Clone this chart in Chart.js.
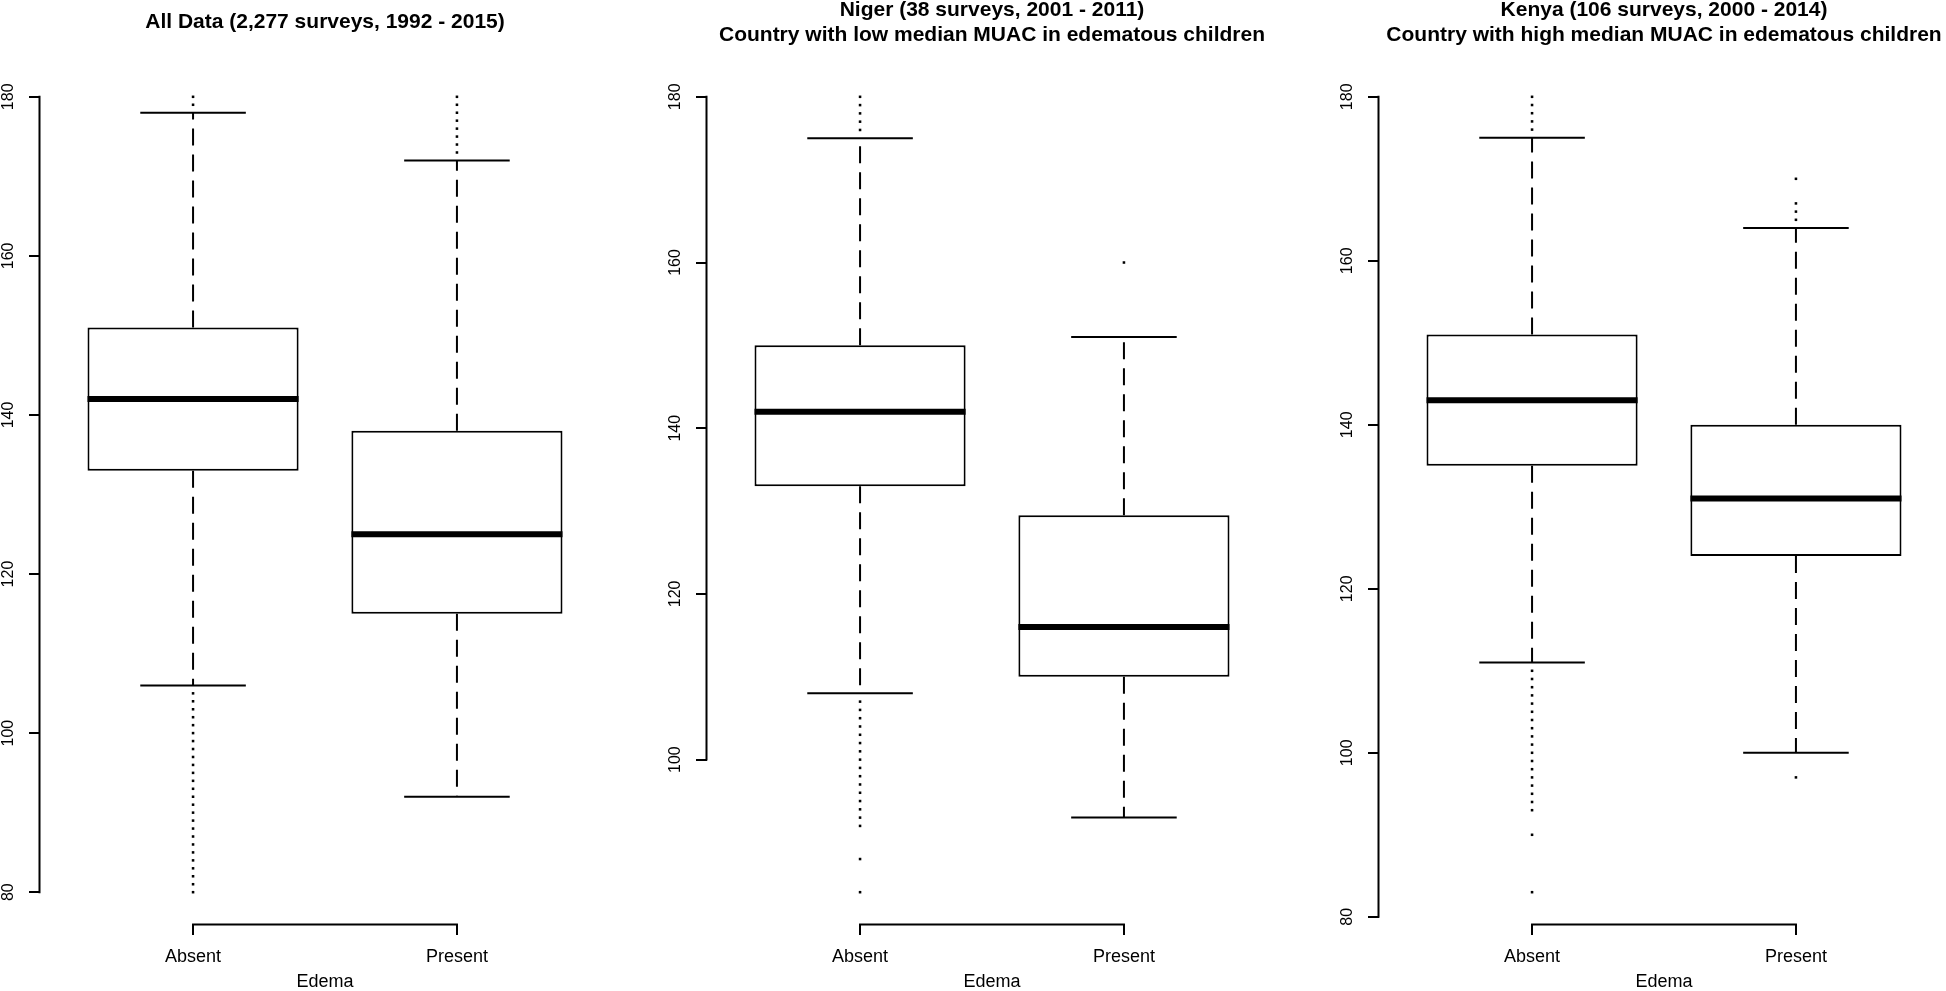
<!DOCTYPE html>
<html>
<head>
<meta charset="utf-8">
<script src="https://cdn.jsdelivr.net/npm/chart.js@4.4.0/dist/chart.umd.min.js"></script>
<style>
  html, body { margin: 0; padding: 0; background: #fff; overflow: hidden; width: 1946px; height: 991px; }
  .panel { position: absolute; top: 0; width: 614px; height: 991px; }
</style>
</head>
<body>
<div class="panel" style="left:0px"><canvas id="allChart"></canvas></div>
<div class="panel" style="left:667px"><canvas id="nigerChart"></canvas></div>
<div class="panel" style="left:1339px"><canvas id="kenyaChart"></canvas></div>
<script>
const groups = ['Absent', 'Present'];
const yTickValues = [80, 100, 120, 140, 160, 180];
const xAxisTitle = 'Edema';

// All data
const allTitle = 'All Data (2,277 surveys, 1992 - 2015)';
const allLow = [106, 92];
const allQ1 = [133, 115];
const allMedian = [142, 125];
const allQ3 = [151, 138];
const allHigh = [178, 172];
const allOutAbsent = [80, 81, 82, 83, 84, 85, 86, 87, 88, 89, 90, 91, 92, 93, 94, 95, 96, 97, 98, 99, 100, 101, 102, 103, 104, 105, 179, 180];
const allOutPresent = [173, 174, 175, 176, 177, 178, 179, 180];

// Niger
const nigerTitle = ['Niger (38 surveys, 2001 - 2011)', 'Country with low median MUAC in edematous children'];
const nigerLow = [108, 93];
const nigerQ1 = [133, 110];
const nigerMedian = [142, 116];
const nigerQ3 = [150, 129.5];
const nigerHigh = [175, 151];
const nigerOutAbsent = [84, 88, 92, 93, 94, 95, 96, 97, 98, 99, 100, 101, 102, 103, 104, 105, 106, 107, 176, 177, 178, 179, 180];
const nigerOutPresent = [160];

// Kenya
const kenyaTitle = ['Kenya (106 surveys, 2000 - 2014)', 'Country with high median MUAC in edematous children'];
const kenyaLow = [111, 100];
const kenyaQ1 = [135, 124];
const kenyaMedian = [143, 131];
const kenyaQ3 = [151, 140];
const kenyaHigh = [175, 164];
const kenyaOutAbsent = [83, 90, 93, 94, 95, 96, 97, 98, 99, 100, 101, 102, 103, 104, 105, 106, 107, 108, 109, 110, 176, 177, 178, 179, 180];
const kenyaOutPresent = [97, 165, 166, 167, 170];

const BOX_WEX = 0.8;  // box width, in group units
const STAPLE = 0.5;   // whisker cap width relative to box

Chart.defaults.font.family = '"Liberation Sans", Arial, Helvetica, sans-serif';
Chart.defaults.color = '#000';

// R-style axis lines: only from first to last tick
const axisLines = {
  id: 'axisLines',
  afterDraw(chart) {
    const { ctx, scales: { x, y } } = chart;
    const yt = y.ticks, xt = x.ticks;
    ctx.save();
    ctx.strokeStyle = '#000';
    ctx.lineWidth = 2;
    ctx.lineCap = 'square';
    ctx.beginPath();
    ctx.moveTo(y.right - 0.5, y.getPixelForValue(yt[0].value));
    ctx.lineTo(y.right - 0.5, y.getPixelForValue(yt[yt.length - 1].value));
    ctx.moveTo(x.getPixelForValue(xt[0].value), x.top + 0.5);
    ctx.lineTo(x.getPixelForValue(xt[xt.length - 1].value), x.top + 0.5);
    ctx.stroke();
    ctx.restore();
  }
};

function makePanel(id, title, low, q1, med, q3, high, outliers) {
  const values = outliers.flat().concat(low, high);
  const lo = Math.min(...values);
  const hi = Math.max(...values);
  const ext = (hi - lo) * 0.04;

  const boxData = [], medianData = [], whiskerData = [], capData = [], outData = [];
  const half = BOX_WEX / 2, cap = BOX_WEX * STAPLE / 2;
  groups.forEach((g, i) => {
    const c = i + 1;
    boxData.push({ x: c, y: [q1[i], q3[i]] });
    medianData.push({ x: c - half, y: med[i] }, { x: c + half, y: med[i] }, { x: c + half, y: null });
    whiskerData.push({ x: c, y: q3[i] }, { x: c, y: high[i] }, { x: c, y: null },
                     { x: c, y: q1[i] }, { x: c, y: low[i] }, { x: c, y: null });
    capData.push({ x: c - cap, y: high[i] }, { x: c + cap, y: high[i] }, { x: c + cap, y: null },
                 { x: c - cap, y: low[i] }, { x: c + cap, y: low[i] }, { x: c + cap, y: null });
    outliers[i].forEach(v => outData.push({ x: c, y: v }));
  });

  const twoLines = Array.isArray(title);

  new Chart(document.getElementById(id), {
    type: 'bar',
    data: {
      datasets: [
        { type: 'line', data: medianData, borderColor: '#000', borderWidth: 6, borderCapStyle: 'butt', pointRadius: 0, order: 0 },
        { type: 'bar', data: boxData, backgroundColor: '#fff', borderColor: '#000', borderWidth: 2, borderSkipped: false,
          categoryPercentage: BOX_WEX, barPercentage: 1, grouped: false, order: 1 },
        { type: 'line', data: capData, borderColor: '#000', borderWidth: 2, pointRadius: 0, order: 2 },
        { type: 'line', data: whiskerData, borderColor: '#000', borderWidth: 2, borderDash: [17, 9], pointRadius: 0, order: 3 },
        { type: 'scatter', data: outData, backgroundColor: '#000', borderWidth: 0, pointStyle: 'rect', pointRadius: 1.8, order: 4 }
      ]
    },
    options: {
      responsive: true,
      maintainAspectRatio: false,
      animation: false,
      events: [],
      layout: { padding: 0 },
      plugins: {
        legend: { display: false },
        tooltip: { enabled: false },
        title: {
          display: true,
          fullSize: false,
          text: title,
          color: '#000',
          font: { size: 21, weight: 'bold', lineHeight: '25px' },
          padding: twoLines ? { top: -2, bottom: 17 } : { top: 10, bottom: 30 }
        }
      },
      scales: {
        x: {
          type: 'linear',
          min: 0.42,
          max: 2.58,
          bounds: 'data',
          offset: false,
          afterFit: s => { s.height = 67; },
          afterBuildTicks: s => { s.ticks = groups.map((g, i) => ({ value: i + 1 })); },
          ticks: { callback: v => groups[v - 1], font: { size: 18 }, padding: 11, maxRotation: 0, minRotation: 0, autoSkip: false },
          grid: { display: true, drawOnChartArea: false, drawTicks: true, tickLength: 11, color: '#000', lineWidth: 2, offset: false },
          border: { display: false },
          title: { display: true, text: xAxisTitle, font: { size: 18, lineHeight: 1 }, padding: 0 }
        },
        y: {
          type: 'linear',
          min: lo - ext,
          max: hi + ext,
          bounds: 'data',
          beginAtZero: false,
          afterFit: s => { s.width = 40; },
          afterBuildTicks: s => { s.ticks = yTickValues.filter(v => v >= s.min && v <= s.max).map(v => ({ value: v })); },
          ticks: { font: { size: 16 }, padding: 7, minRotation: 90, maxRotation: 90, crossAlign: 'center' },
          grid: { display: true, drawOnChartArea: false, drawTicks: true, tickLength: 11, color: '#000', lineWidth: 2 },
          border: { display: false }
        }
      }
    },
    plugins: [axisLines]
  });
}

makePanel('allChart', allTitle, allLow, allQ1, allMedian, allQ3, allHigh, [allOutAbsent, allOutPresent]);
makePanel('nigerChart', nigerTitle, nigerLow, nigerQ1, nigerMedian, nigerQ3, nigerHigh, [nigerOutAbsent, nigerOutPresent]);
makePanel('kenyaChart', kenyaTitle, kenyaLow, kenyaQ1, kenyaMedian, kenyaQ3, kenyaHigh, [kenyaOutAbsent, kenyaOutPresent]);
</script>
</body>
</html>
